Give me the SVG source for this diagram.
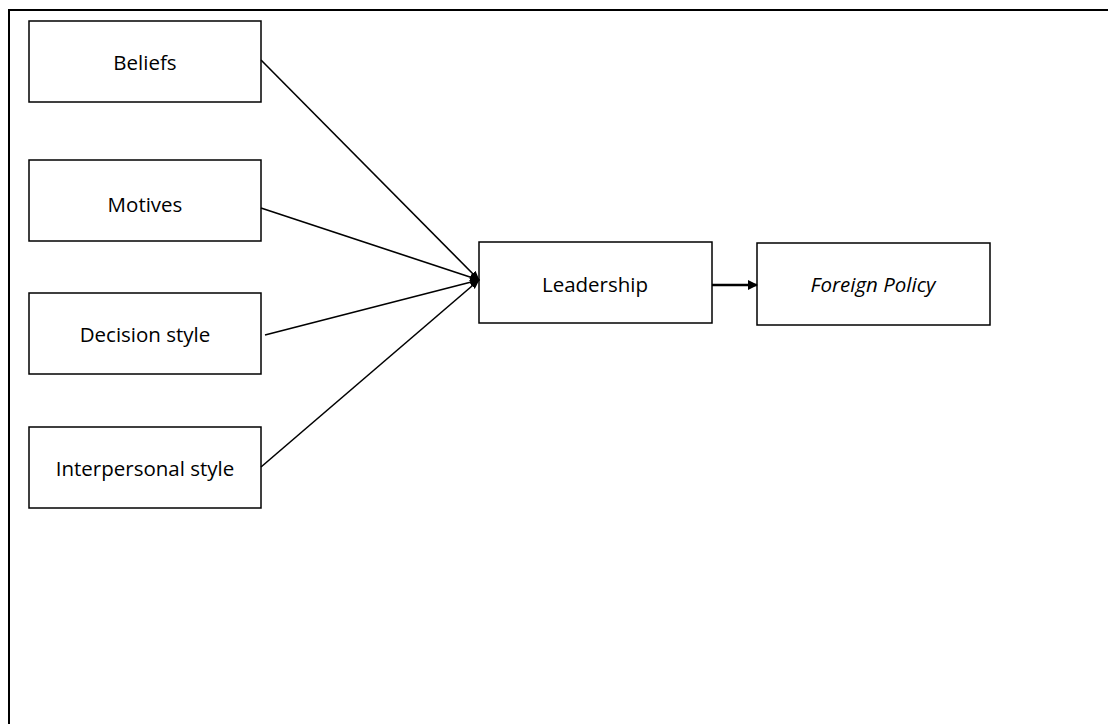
<svg xmlns="http://www.w3.org/2000/svg" width="1108" height="724" viewBox="0 0 1108 724">
<style>
.box{fill:#fff;stroke:#000;stroke-width:1.5}
.t{font-family:"Open Sans","Liberation Sans",sans-serif;font-size:20.5px;fill:#000;text-anchor:middle;dominant-baseline:central}
.c{stroke:#000;stroke-width:1.6;fill:none}
</style>
<defs>
<marker id="ah" markerWidth="10" markerHeight="10" refX="9" refY="5" orient="auto" markerUnits="userSpaceOnUse"><path d="M0,1 L10,5 L0,9 z" fill="#000"/></marker>
<marker id="ah2" markerWidth="10" markerHeight="10" refX="9" refY="5" orient="auto" markerUnits="userSpaceOnUse"><path d="M0,0 L10,5 L0,10 z" fill="#000"/></marker>
</defs>
<rect x="0" y="0" width="1108" height="724" fill="#fff"/>
<path d="M9,740 V10 H1120" fill="none" stroke="#000" stroke-width="2"/>
<g id="beliefs"><rect class="box" x="29" y="21" width="232" height="81"/><text class="t" x="145" y="62">Beliefs</text></g>
<g id="motives"><rect class="box" x="29" y="160" width="232" height="81"/><text class="t" x="145" y="204">Motives</text></g>
<g id="decision"><rect class="box" x="29" y="293" width="232" height="81"/><text class="t" x="145" y="334">Decision style</text></g>
<g id="interpersonal"><rect class="box" x="29" y="427" width="232" height="81"/><text class="t" x="145" y="468">Interpersonal style</text></g>
<g id="leadership"><rect class="box" x="479" y="242" width="233" height="81"/><text class="t" x="595" y="284">Leadership</text></g>
<g id="foreign"><rect class="box" x="757" y="243" width="233" height="82"/><text class="t" x="873" y="284" font-style="italic">Foreign Policy</text></g>
<g id="connectors">
<line class="c" x1="261" y1="60" x2="479" y2="280" marker-end="url(#ah)"/>
<line class="c" x1="261" y1="208" x2="479" y2="280" marker-end="url(#ah)"/>
<line class="c" x1="265" y1="335" x2="479" y2="280" marker-end="url(#ah)"/>
<line class="c" x1="261" y1="467" x2="479" y2="280" marker-end="url(#ah)"/>
<line x1="712" y1="285" x2="757" y2="285" stroke="#000" stroke-width="2.5" marker-end="url(#ah2)"/>
</g>
</svg>
